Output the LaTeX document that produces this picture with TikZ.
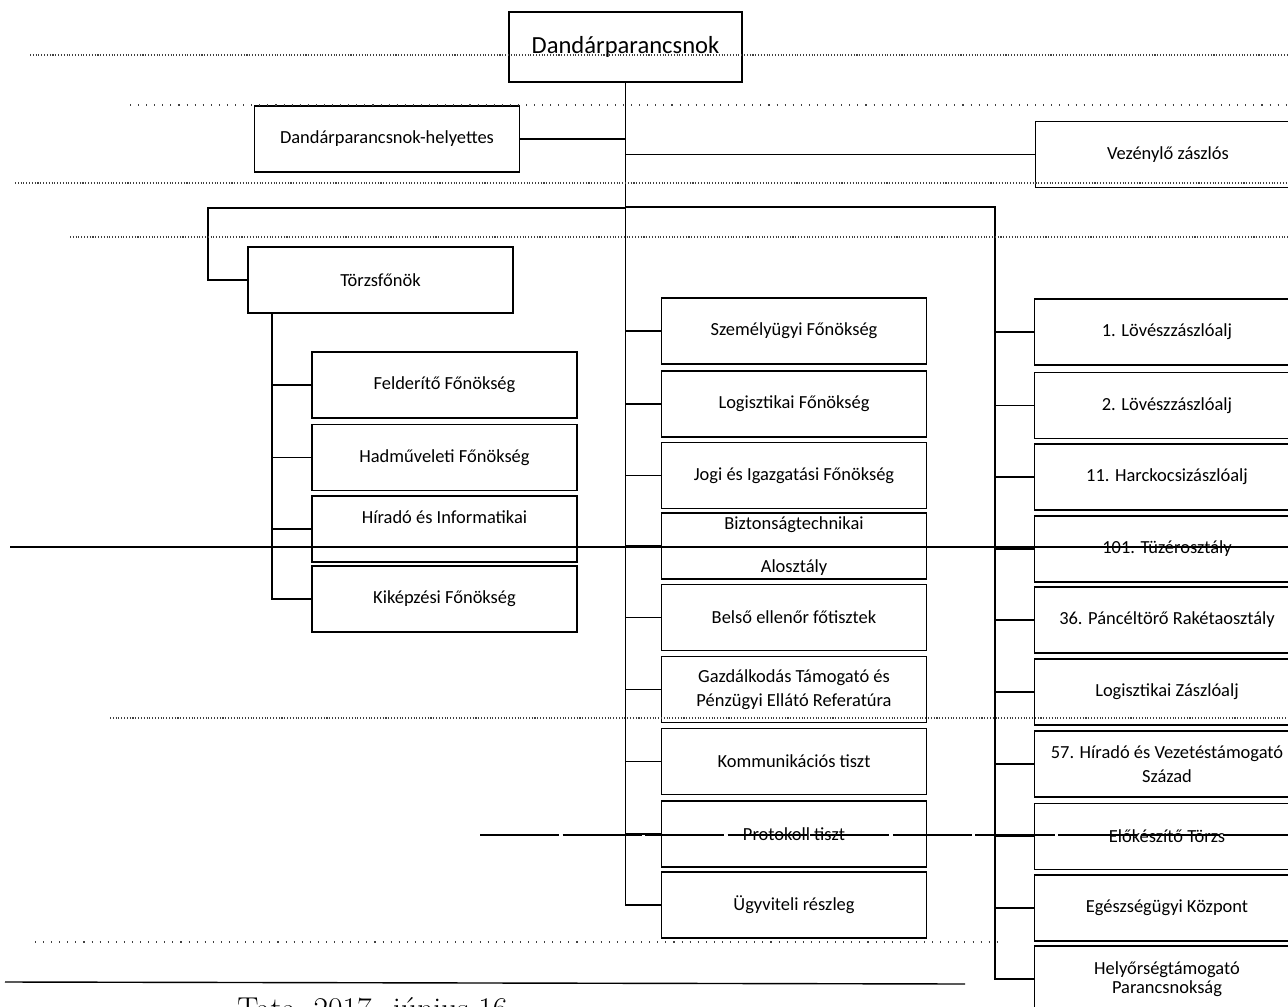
\documentclass[tikz,border=0pt]{standalone}
\usepackage{fontspec}
\newfontfamily\chartfont{Carlito}
\usetikzlibrary{positioning}

\begin{document}
\begin{tikzpicture}[x=0.02cm, y=-0.02cm
    , every node/.style={font=\chartfont\fontsize{10.5}{14}\selectfont, align=center}
    , box/.style={draw, line width=1pt, inner sep=0pt, minimum width=5.3cm, minimum height=1.32cm}
    , link/.style={line width=1pt}
    , scanline/.style={black!75, line width=0.6pt, densely dotted}
    ]
\useasboundingbox (0,0) rectangle (1288,1007);
% top of the chart
\node[box, minimum width=4.66cm, minimum height=1.4cm, font=\chartfont\fontsize{14}{16}\selectfont] (cmd) at (625.5,47) {Dandárparancsnok};
\node[box] (dep) at (387,139) {Dandárparancsnok-helyettes};
\node[box] (vez) at (1168,154.5) {Vezénylő zászlós};
\node[box] (tf) at (380.5,280) {Törzsfőnök};
% staff column
\node[box] (fel) at (444.5,385) {Felderítő Főnökség};
\node[box] (had) at (444.5,457.5) {Hadműveleti Főnökség};
\node[box] (hir) at (444.5,529) {Híradó és Informatikai\\ \mbox{}};
\node[box] (kik) at (444.5,599) {Kiképzési Főnökség};
% middle column
\node[box] (szem) at (794,331) {Személyügyi Főnökség};
\node[box] (log) at (794,404) {Logisztikai Főnökség};
\node[box] (jogi) at (794,475.5) {Jogi és Igazgatási Főnökség};
\node[box] (bizt) at (794,546) {Biztonságtechnikai\\[10pt]Alosztály};
\node[box] (bels) at (794,617.5) {Belső ellenőr főtisztek};
\node[box] (gazd) at (794,689.5) {Gazdálkodás Támogató és\\Pénzügyi Ellátó Referatúra};
\node[box] (komm) at (794,761.5) {Kommunikációs tiszt};
\node[box] (prot) at (794,834) {Protokoll tiszt};
\node[box] (ugy) at (794,905) {Ügyviteli részleg};
% troops column
\node[box] (l1) at (1167,332) {1. Lövészzászlóalj};
\node[box] (l2) at (1167,405.5) {2. Lövészzászlóalj};
\node[box] (hk) at (1167,477) {11. Harckocsizászlóalj};
\node[box] (tuz) at (1167,549) {101. Tüzérosztály};
\node[box] (pto) at (1167,620) {36. Páncéltörő Rakétaosztály};
\node[box] (lza) at (1167,692) {Logisztikai Zászlóalj};
\node[box] (h57) at (1167,764) {57. Híradó és Vezetéstámogató\\Század};
\node[box] (elo) at (1167,836.5) {Előkészítő Törzs};
\node[box] (egk) at (1167,908) {Egészségügyi Központ};
\node[box] (hely) at (1167,979) {Helyőrségtámogató\\[-3pt]Parancsnokság};
% turning points
\coordinate (lb) at (208,208);
\coordinate (lt) at (272,313);
\coordinate (rt) at (995,207);
% connectors
\draw[link] (cmd.south) |- (ugy.west);
\draw[link] (dep.east) -- (dep.east -| cmd.south);
\draw[link] (cmd.south |- vez.west) -- (vez.west);
\draw[link] (cmd.south |- lb) -- (lb) |- (tf.west);
\draw[link] (cmd.south |- rt) -- (rt) |- (hely.west);
\draw[link] (lt) |- (kik.west);
\draw[link] (lt |- fel.west) -- (fel.west)
    (lt |- had.west) -- (had.west)
    (lt |- hir.west) -- (hir.west);
\draw[link] (cmd.south |- szem.west) -- (szem.west)
    (cmd.south |- log.west) -- (log.west)
    (cmd.south |- jogi.west) -- (jogi.west)
    (cmd.south |- bizt.west) -- (bizt.west)
    (cmd.south |- bels.west) -- (bels.west)
    (cmd.south |- gazd.west) -- (gazd.west)
    (cmd.south |- komm.west) -- (komm.west)
    (cmd.south |- prot.west) -- (prot.west);
\draw[link] (rt |- l1.west) -- (l1.west)
    (rt |- l2.west) -- (l2.west)
    (rt |- hk.west) -- (hk.west)
    (rt |- tuz.west) -- (tuz.west)
    (rt |- pto.west) -- (pto.west)
    (rt |- lza.west) -- (lza.west)
    (rt |- h57.west) -- (h57.west)
    (rt |- elo.west) -- (elo.west)
    (rt |- egk.west) -- (egk.west);
% scanner traces
\draw[scanline] (30,55) -- (1288,55);
\draw[scanline, loosely dotted] (130,105) -- (1288,105);
\draw[scanline] (15,183) -- (1288,183);
\draw[scanline] (70,237) -- (1288,237);
\draw[scanline] (110,718) -- (1288,718);
\draw[scanline, loosely dotted] (35,942) -- (1000,942);
\draw[line width=0.8pt] (10,547) -- (1288,547);
\draw[line width=0.8pt, dash pattern=on 45pt off 2pt] (480,835) -- (1288,835);
\draw[line width=0.8pt] (5,982) -- (965,984);
% date
\node[anchor=base west, font=\rmfamily\fontsize{18}{20}\selectfont, inner sep=0pt] (date) at (237,1019) {Tata, 2017. június 16.};
\end{tikzpicture}
\end{document}
